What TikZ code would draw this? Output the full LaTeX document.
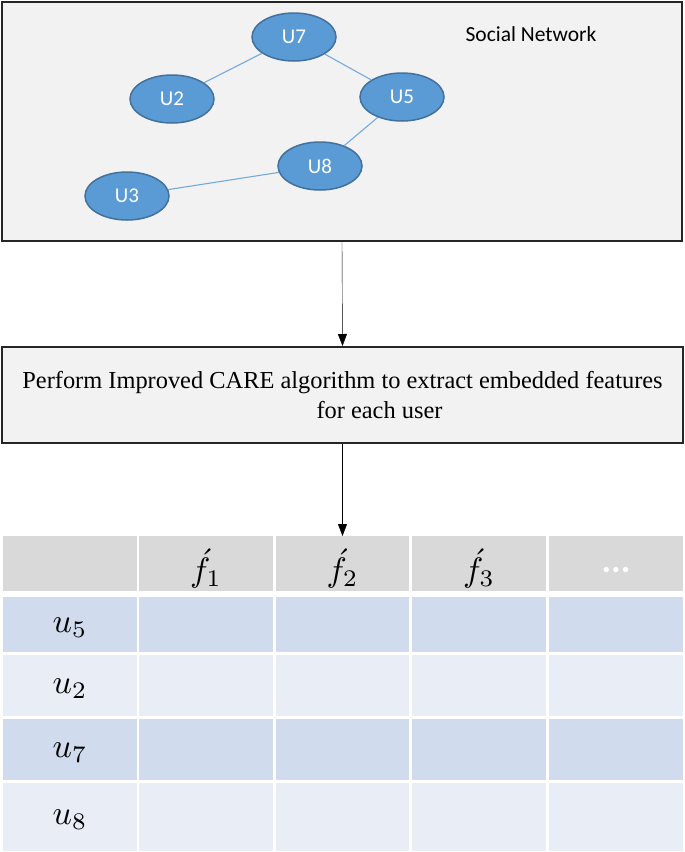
\documentclass[tikz,border=0pt]{standalone}
\usepackage{fontspec}
\setmainfont{Liberation Serif}
\newfontfamily\calibri{Carlito}
\usetikzlibrary{arrows.meta,shapes.geometric,positioning}
\definecolor{boxgray}{HTML}{F2F2F2}
\definecolor{nodeblue}{HTML}{5B9BD5}
\definecolor{nodeedge}{HTML}{41719C}
\definecolor{headgray}{HTML}{D9D9D9}
\definecolor{rowdark}{HTML}{D0DCEE}
\definecolor{rowlight}{HTML}{E9EEF6}
\newcommand{\bigmath}[1]{\scalebox{3.4}{$#1$}}

\begin{document}
\begin{tikzpicture}[x=1pt,y=-1pt,
  >={Triangle[length=12pt,width=9pt]},
  user/.style={ellipse,draw=nodeedge,line width=1.5pt,fill=nodeblue,
    minimum width=84pt,minimum height=48pt,inner sep=0pt,
    text=white,font=\calibri\fontsize{21}{25}\selectfont},
  link/.style={draw=nodeblue!85,line width=1.1pt},
  bigbox/.style={draw=black!85,line width=2pt,fill=boxgray,inner sep=0pt},
  cell/.style={inner sep=0pt,outer sep=0pt},
  lab/.style={inner sep=0pt}]
  \useasboundingbox (0,0) rectangle (685,852);

  \node[bigbox,minimum width=680pt,minimum height=239pt] (net) at (342,121.5) {}; %Network box
  \node[font=\calibri\fontsize{21.5}{25}\selectfont] (title) at (531,34) {Social Network};

  \node[user] (u7) at (294,37)  {U7};
  \node[user] (u2) at (172,99)  {U2};
  \node[user] (u5) at (402,97)  {U5};
  \node[user] (u8) at (320,166) {U8};
  \node[user] (u3) at (127,196) {U3};

  \draw[link] (u7) -- (u2);
  \draw[link] (u7) -- (u5);
  \draw[link] (u5) -- (u8);
  \draw[link] (u8) -- (u3);

  \node[bigbox,minimum width=681pt,minimum height=96pt,align=center,
    font=\fontsize{24.4}{30}\selectfont] (care) at (342.5,395)
    {Perform Improved CARE algorithm to extract embedded features\\
     \hspace*{74pt}for each user}; %Algorithm box

  \draw[->] (net.south) -- (care.north);

  % feature table
  \foreach \r/\yc/\h/\col in {0/563.5/55/headgray,1/624.5/55/rowdark,
      2/685.5/61/rowlight,3/749.5/61/rowdark,4/817/68/rowlight}
    \foreach \c/\xc/\w in {0/70/134,1/206/134,2/342.5/133,3/479/134,4/616/134}
      \node[cell,fill=\col,minimum width=\w pt,minimum height=\h pt] (cell-\r-\c) at (\xc,\yc) {};

  \draw[->] (care.south) -- (cell-0-2.north);

  \node[lab,yshift=-5pt] (f1) at (cell-0-1) {\bigmath{\acute{f}_1}};
  \node[lab,yshift=-5pt] (f2) at (cell-0-2) {\bigmath{\acute{f}_2}};
  \node[lab,yshift=-5pt] (f3) at (cell-0-3) {\bigmath{\acute{f}_3}};
  \node[lab,text=white,font=\calibri\bfseries\fontsize{36}{40}\selectfont,yshift=-7pt] (dots) at (cell-0-4) {...};

  \node[lab,yshift=-3pt] (lu5) at (cell-1-0) {\bigmath{u_5}};
  \node[lab,yshift=-3pt] (lu2) at (cell-2-0) {\bigmath{u_2}};
  \node[lab,yshift=-3pt] (lu7) at (cell-3-0) {\bigmath{u_7}};
  \node[lab,yshift=-3pt] (lu8) at (cell-4-0) {\bigmath{u_8}};
\end{tikzpicture}
\end{document}
